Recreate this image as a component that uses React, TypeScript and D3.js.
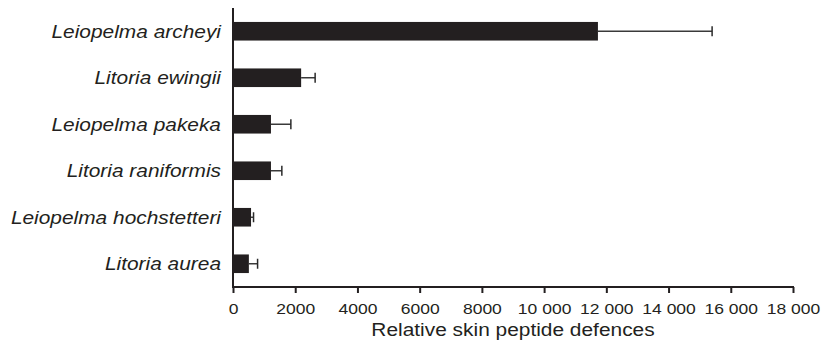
import React, { useEffect, useRef } from 'react';
import * as d3 from 'd3';

const species = [
    'Leiopelma archeyi',
    'Litoria ewingii',
    'Leiopelma pakeka',
    'Litoria raniformis',
    'Leiopelma hochstetteri',
    'Litoria aurea',
];
const values = [11730, 2190, 1220, 1220, 580, 510];
const errors = [3670, 450, 640, 350, 80, 280];
const xTicks = [0, 2000, 4000, 6000, 8000, 10000, 12000, 14000, 16000, 18000];
const xTitle = 'Relative skin peptide defences';

const W = 822;
const H = 350;
const INK = '#231f20';
const STRETCH = 1.13; // text in the figure is a bit wider than plain Arial

const fmt = (d: number) => (d >= 10000 ? d3.format(',')(d).replace(/,/g, ' ') : String(d));

const App: React.FC = () => {
    const svgRef = useRef<SVGSVGElement>(null);

    useEffect(() => {
        if (!svgRef.current) return;
        const svg = d3.select(svgRef.current);
        svg.selectAll('*').remove();

        const margin = { top: 8, right: 29, bottom: 63, left: 233 };
        const innerW = W - margin.left - margin.right;
        const innerH = H - margin.top - margin.bottom;

        const x = d3.scaleLinear().domain([0, 18000]).range([0, innerW]);
        const y = d3.scaleBand<string>()
            .domain(species)
            .range([0, innerH])
            .paddingInner(0.6)
            .paddingOuter(0.3);

        const g = svg.append('g').attr('transform', `translate(${margin.left},${margin.top})`);

        const rows = species.map((name, i) => ({ name, value: values[i], err: errors[i] }));

        // error bars (drawn first so the bar covers the start)
        g.selectAll('line.err')
            .data(rows)
            .enter()
            .append('line')
            .attr('class', 'err')
            .attr('x1', d => x(d.value))
            .attr('x2', d => x(d.value + d.err))
            .attr('y1', d => (y(d.name) as number) + y.bandwidth() / 2)
            .attr('y2', d => (y(d.name) as number) + y.bandwidth() / 2)
            .attr('stroke', '#3a3a3a')
            .attr('stroke-width', 1.5);

        g.selectAll('line.cap')
            .data(rows)
            .enter()
            .append('line')
            .attr('class', 'cap')
            .attr('x1', d => x(d.value + d.err))
            .attr('x2', d => x(d.value + d.err))
            .attr('y1', d => (y(d.name) as number) + y.bandwidth() / 2 - 5)
            .attr('y2', d => (y(d.name) as number) + y.bandwidth() / 2 + 5)
            .attr('stroke', '#2a2a2a')
            .attr('stroke-width', 1.5);

        g.selectAll('rect.bar')
            .data(rows)
            .enter()
            .append('rect')
            .attr('class', 'bar')
            .attr('x', x(0))
            .attr('y', d => y(d.name) as number)
            .attr('width', d => x(d.value) - x(0))
            .attr('height', y.bandwidth())
            .attr('fill', INK);

        // species labels, italic
        g.selectAll('text.label')
            .data(rows)
            .enter()
            .append('text')
            .attr('class', 'label')
            .attr('transform', d => `translate(-12,${(y(d.name) as number) + y.bandwidth() / 2}) scale(${STRETCH},1)`)
            .attr('text-anchor', 'end')
            .attr('dy', '0.36em')
            .style('font-family', '"Liberation Sans", Arial, sans-serif')
            .style('font-style', 'italic')
            .style('font-size', '18.5px')
            .style('fill', INK)
            .text(d => d.name);

        // y axis: plain line
        g.append('line')
            .attr('x1', 0)
            .attr('x2', 0)
            .attr('y1', 0)
            .attr('y2', innerH)
            .attr('stroke', INK)
            .attr('stroke-width', 2);

        // x axis
        const xAxis = g.append('g')
            .attr('transform', `translate(0,${innerH})`)
            .call(d3.axisBottom(x).tickValues(xTicks).tickFormat(d => fmt(d as number)).tickSize(6).tickSizeOuter(0));

        xAxis.select('.domain').attr('stroke', INK).attr('stroke-width', 2).attr('d', `M-1,0H${innerW + 1}`);
        xAxis.selectAll('.tick line').attr('stroke', INK).attr('stroke-width', 2);
        xAxis.selectAll('.tick text')
            .attr('y', 27)
            .attr('dy', 0)
            .attr('x', 0)
            .attr('transform', `scale(${STRETCH},1)`)
            .style('font-family', '"Liberation Sans", Arial, sans-serif')
            .style('font-size', '15.5px')
            .style('fill', INK);

        g.append('text')
            .attr('transform', `translate(${innerW / 2},${innerH + 49}) scale(${STRETCH},1)`)
            .attr('text-anchor', 'middle')
            .style('font-family', '"Liberation Sans", Arial, sans-serif')
            .style('font-size', '18.5px')
            .style('fill', INK)
            .text(xTitle);
    }, []);

    return (
        <div style={{ position: 'absolute', left: 0, top: 0, width: W, height: H, background: '#fff' }}>
            <svg ref={svgRef} width={W} height={H} />
        </div>
    );
};

export default App;
